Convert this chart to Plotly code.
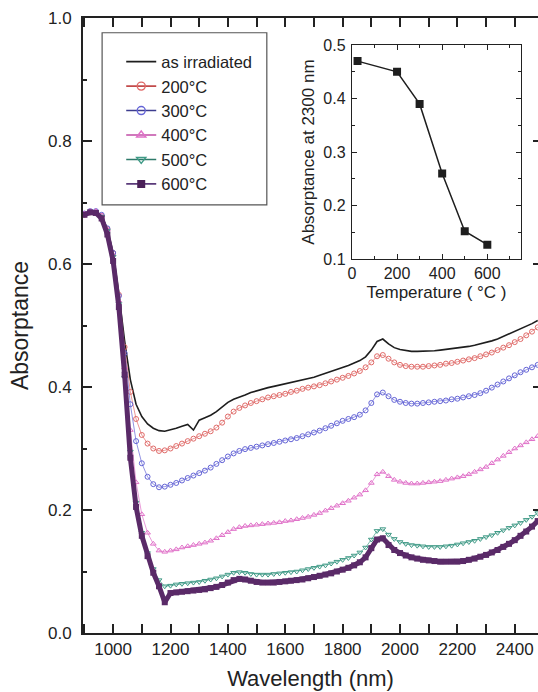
import plotly.graph_objects as go

# Wavelength grid (nm) shared by all spectra
wavelength = [
    900, 920, 940, 960, 980, 1000, 1020, 1040, 1060, 1080,
    1100, 1120, 1140, 1160, 1180, 1200, 1220, 1240, 1260, 1280,
    1300, 1320, 1340, 1360, 1380, 1400, 1420, 1440, 1460, 1480,
    1500, 1520, 1540, 1560, 1580, 1600, 1620, 1640, 1660, 1680,
    1700, 1720, 1740, 1760, 1780, 1800, 1820, 1840, 1860, 1880,
    1900, 1920, 1940, 1960, 1980, 2000, 2020, 2040, 2060, 2080,
    2100, 2120, 2140, 2160, 2180, 2200, 2220, 2240, 2260, 2280,
    2300, 2320, 2340, 2360, 2380, 2400, 2420, 2440, 2460, 2480,
]

abs_irradiated = [
    0.680, 0.684, 0.684, 0.678, 0.657, 0.618, 0.552, 0.475, 0.412, 0.372,
    0.352, 0.340, 0.333, 0.329, 0.328, 0.330, 0.333, 0.336, 0.339, 0.330,
    0.346, 0.350, 0.354, 0.360, 0.368, 0.375, 0.380, 0.383, 0.387, 0.391,
    0.394, 0.396, 0.399, 0.401, 0.403, 0.405, 0.407, 0.409, 0.411, 0.413,
    0.416, 0.419, 0.422, 0.426, 0.429, 0.432, 0.435, 0.439, 0.443, 0.449,
    0.460, 0.474, 0.478, 0.470, 0.464, 0.461, 0.459, 0.458, 0.458, 0.458,
    0.459, 0.459, 0.460, 0.461, 0.462, 0.463, 0.465, 0.466, 0.468, 0.470,
    0.472, 0.475, 0.478, 0.482, 0.486, 0.490, 0.494, 0.498, 0.503, 0.508,
]

abs_200 = [
    0.680, 0.684, 0.684, 0.678, 0.657, 0.618, 0.550, 0.465, 0.392, 0.348,
    0.322, 0.308, 0.300, 0.296, 0.297, 0.300, 0.304, 0.308, 0.312, 0.316,
    0.320, 0.324, 0.328, 0.334, 0.342, 0.352, 0.360, 0.366, 0.370, 0.374,
    0.377, 0.380, 0.383, 0.385, 0.387, 0.389, 0.392, 0.394, 0.397, 0.399,
    0.401, 0.403, 0.406, 0.409, 0.412, 0.415, 0.418, 0.422, 0.426, 0.432,
    0.440, 0.450, 0.452, 0.446, 0.440, 0.436, 0.434, 0.433, 0.433, 0.433,
    0.434, 0.435, 0.436, 0.438, 0.439, 0.441, 0.443, 0.445, 0.447, 0.450,
    0.453, 0.456, 0.460, 0.464, 0.468, 0.473, 0.478, 0.484, 0.490, 0.497,
]

abs_300 = [
    0.682, 0.686, 0.686, 0.680, 0.658, 0.618, 0.548, 0.455, 0.372, 0.312,
    0.276, 0.254, 0.242, 0.237, 0.238, 0.241, 0.244, 0.248, 0.252, 0.256,
    0.260, 0.264, 0.269, 0.275, 0.281, 0.287, 0.292, 0.296, 0.299, 0.301,
    0.303, 0.305, 0.307, 0.309, 0.311, 0.313, 0.315, 0.317, 0.320, 0.323,
    0.326, 0.329, 0.333, 0.337, 0.341, 0.345, 0.348, 0.351, 0.355, 0.362,
    0.374, 0.388, 0.391, 0.385, 0.379, 0.376, 0.374, 0.373, 0.373, 0.374,
    0.375, 0.376, 0.377, 0.378, 0.380, 0.381, 0.383, 0.385, 0.387, 0.390,
    0.394, 0.399, 0.404, 0.409, 0.414, 0.419, 0.424, 0.428, 0.432, 0.436,
]

abs_400 = [
    0.682, 0.686, 0.686, 0.679, 0.656, 0.615, 0.540, 0.432, 0.330, 0.245,
    0.193, 0.163, 0.145, 0.134, 0.132, 0.134, 0.136, 0.139, 0.141, 0.143,
    0.145, 0.147, 0.150, 0.154, 0.159, 0.164, 0.169, 0.172, 0.174, 0.175,
    0.176, 0.177, 0.178, 0.179, 0.180, 0.182, 0.183, 0.185, 0.187, 0.189,
    0.192, 0.195, 0.199, 0.203, 0.207, 0.211, 0.215, 0.220, 0.225, 0.232,
    0.244, 0.258, 0.262, 0.255, 0.249, 0.246, 0.244, 0.243, 0.243, 0.244,
    0.245, 0.246, 0.247, 0.249, 0.251, 0.253, 0.255, 0.258, 0.262, 0.266,
    0.270, 0.276, 0.282, 0.288, 0.294, 0.300, 0.305, 0.310, 0.315, 0.320,
]

abs_500 = [
    0.680, 0.684, 0.684, 0.677, 0.654, 0.612, 0.535, 0.415, 0.295, 0.212,
    0.163, 0.130, 0.104, 0.086, 0.076, 0.077, 0.079, 0.080, 0.081, 0.082,
    0.083, 0.085, 0.087, 0.089, 0.092, 0.095, 0.098, 0.099, 0.098, 0.096,
    0.095, 0.095, 0.095, 0.096, 0.097, 0.098, 0.099, 0.100, 0.102, 0.104,
    0.106, 0.108, 0.110, 0.113, 0.116, 0.119, 0.122, 0.126, 0.131, 0.139,
    0.152, 0.166, 0.169, 0.160, 0.153, 0.148, 0.145, 0.143, 0.142, 0.141,
    0.140, 0.140, 0.140, 0.141, 0.142, 0.144, 0.146, 0.148, 0.150, 0.153,
    0.156, 0.159, 0.163, 0.167, 0.171, 0.175, 0.179, 0.184, 0.189, 0.195,
]

abs_600 = [
    0.680, 0.684, 0.683, 0.674, 0.648, 0.605, 0.530, 0.420, 0.285, 0.205,
    0.158, 0.125, 0.098, 0.076, 0.050, 0.065, 0.066, 0.067, 0.068, 0.069,
    0.070, 0.071, 0.073, 0.075, 0.078, 0.082, 0.086, 0.088, 0.087, 0.085,
    0.083, 0.082, 0.082, 0.082, 0.083, 0.084, 0.085, 0.086, 0.087, 0.089,
    0.091, 0.093, 0.095, 0.097, 0.100, 0.103, 0.106, 0.110, 0.115, 0.123,
    0.138, 0.152, 0.154, 0.143, 0.135, 0.130, 0.126, 0.123, 0.121, 0.119,
    0.118, 0.117, 0.116, 0.116, 0.116, 0.116, 0.117, 0.119, 0.121, 0.124,
    0.127, 0.131, 0.135, 0.140, 0.145, 0.151, 0.158, 0.165, 0.173, 0.182,
]

# Inset: absorptance at 2300 nm versus annealing temperature
inset_temperature = [25, 200, 300, 400, 500, 600]
inset_absorptance = [0.470, 0.450, 0.390, 0.260, 0.152, 0.127]

series_names = ["as irradiated", "200°C", "300°C", "400°C", "500°C", "600°C"]

FONT = "Liberation Sans, Arial, sans-serif"
INK = "#222222"

fig = go.Figure()

# as irradiated: plain line
fig.add_trace(go.Scatter(
    x=wavelength, y=abs_irradiated, name=series_names[0], mode="lines",
    line=dict(color="#1e1e1e", width=1.6),
))

# annealed spectra: (values, name, symbol colour, legend line colour, symbol)
marker_styles = [
    (abs_200, series_names[1], "#e06a68", "#c24a4a", "circle-open"),
    (abs_300, series_names[2], "#6464d6", "#3c3c8e", "circle-open"),
    (abs_400, series_names[3], "#e070c8", "#c04ca6", "triangle-up-open"),
    (abs_500, series_names[4], "#3f9a86", "#2e7a6a", "triangle-down-open"),
]
for values, name, color, key_color, symbol in marker_styles:
    fig.add_trace(go.Scatter(
        x=wavelength, y=values, name=name, mode="lines+markers",
        showlegend=False,
        line=dict(color=color, width=0.7),
        marker=dict(symbol=symbol, size=5, color=color,
                    line=dict(color=color, width=1)),
    ))
    # legend key: darker line with a larger open symbol
    fig.add_trace(go.Scatter(
        x=[None], y=[None], name=name, mode="lines+markers",
        line=dict(color=key_color, width=1.6),
        marker=dict(symbol=symbol, size=8, color=color,
                    line=dict(color=color, width=1.4)),
    ))

fig.add_trace(go.Scatter(
    x=wavelength, y=abs_600, name=series_names[5], mode="lines+markers",
    showlegend=False,
    line=dict(color="#5a2a68", width=5),
    marker=dict(symbol="square", size=6, color="#5a2a68"),
))
fig.add_trace(go.Scatter(
    x=[None], y=[None], name=series_names[5], mode="lines+markers",
    line=dict(color="#5a3a7a", width=1.8),
    marker=dict(symbol="square", size=8, color="#4a2058"),
))

# Inset trace
fig.add_trace(go.Scatter(
    x=inset_temperature, y=inset_absorptance, xaxis="x2", yaxis="y2",
    mode="lines+markers", showlegend=False,
    line=dict(color="#1e1e1e", width=1.5),
    marker=dict(symbol="square", size=8, color="#1e1e1e"),
))

axis_common = dict(
    showgrid=False, zeroline=False, showline=True, linecolor=INK,
    ticks="inside", tickcolor=INK, color=INK,
)

fig.update_layout(
    width=538, height=692,
    margin=dict(l=83, r=0, t=18, b=59),
    paper_bgcolor="white", plot_bgcolor="white",
    font=dict(family=FONT, color=INK, size=17),
    xaxis=dict(
        **axis_common, range=[895, 2481], linewidth=2, mirror="allticks",
        tickvals=[1000, 1200, 1400, 1600, 1800, 2000, 2200, 2400],
        ticklen=9, tickwidth=2, tickfont=dict(size=17),
        minor=dict(ticks="inside", dtick=100, tick0=900, ticklen=4,
                   tickwidth=2, tickcolor=INK),
        title=dict(text="Wavelength (nm)", font=dict(size=22), standoff=12),
        automargin=False,
    ),
    yaxis=dict(
        **axis_common, range=[0, 1.0], linewidth=2, mirror=False,
        tickvals=[0.0, 0.2, 0.4, 0.6, 0.8, 1.0],
        ticktext=["0.0", "0.2", "0.4", "0.6", "0.8", "1.0"],
        ticklen=9, tickwidth=2, tickfont=dict(size=17),
        ticklabelstandoff=6,
        minor=dict(ticks="inside", dtick=0.1, ticklen=4, tickwidth=2,
                   tickcolor=INK),
        title=dict(text="Absorptance", font=dict(size=23), standoff=13),
        automargin=False,
    ),
    # right-hand axis ticks at the clipped edge
    yaxis3=dict(
        overlaying="y", side="right", anchor="free", position=1.0,
        range=[0, 1.0], showgrid=False, zeroline=False, showline=False,
        showticklabels=False, ticks="inside", ticklen=5, tickwidth=2,
        tickcolor=INK, tickvals=[0.2, 0.4, 0.6, 0.8],
    ),
    xaxis2=dict(
        **axis_common, domain=[0.591, 0.963], anchor="y2",
        range=[0, 750], linewidth=1.2, mirror="allticks",
        tickvals=[0, 200, 400, 600], ticklen=5, tickwidth=1.2,
        tickfont=dict(size=16),
        minor=dict(ticks="inside", dtick=100, ticklen=3, tickwidth=1.2,
                   tickcolor=INK),
        title=dict(text="Temperature ( °C )", font=dict(size=17), standoff=4),
        automargin=False,
    ),
    yaxis2=dict(
        **axis_common, domain=[0.608, 0.956], anchor="x2",
        range=[0.1, 0.5], linewidth=1.2, mirror="allticks",
        tickvals=[0.1, 0.2, 0.3, 0.4, 0.5], ticklen=5, tickwidth=1.2,
        tickfont=dict(size=16), ticklabelstandoff=2,
        minor=dict(ticks="inside", dtick=0.05, ticklen=3, tickwidth=1.2,
                   tickcolor=INK),
        title=dict(text="Absorptance at 2300 nm", font=dict(size=17),
                   standoff=4),
        automargin=False,
    ),
    legend=dict(
        x=0.084, y=0.957, xanchor="left", yanchor="top",
        bgcolor="rgba(0,0,0,0)", borderwidth=0,
        font=dict(size=16.5, color=INK), tracegroupgap=0,
    ),
    shapes=[dict(
        type="rect", xref="paper", yref="paper",
        x0=0.042, x1=0.404, y0=0.696, y1=0.976,
        line=dict(color="#555555", width=1.2), fillcolor="rgba(0,0,0,0)",
        layer="above",
    )],
)

# invisible anchor so the right-hand tick axis is drawn
fig.add_trace(go.Scatter(
    x=[None], y=[None], yaxis="y3", showlegend=False, hoverinfo="skip",
))

fig.write_html("out.html")
